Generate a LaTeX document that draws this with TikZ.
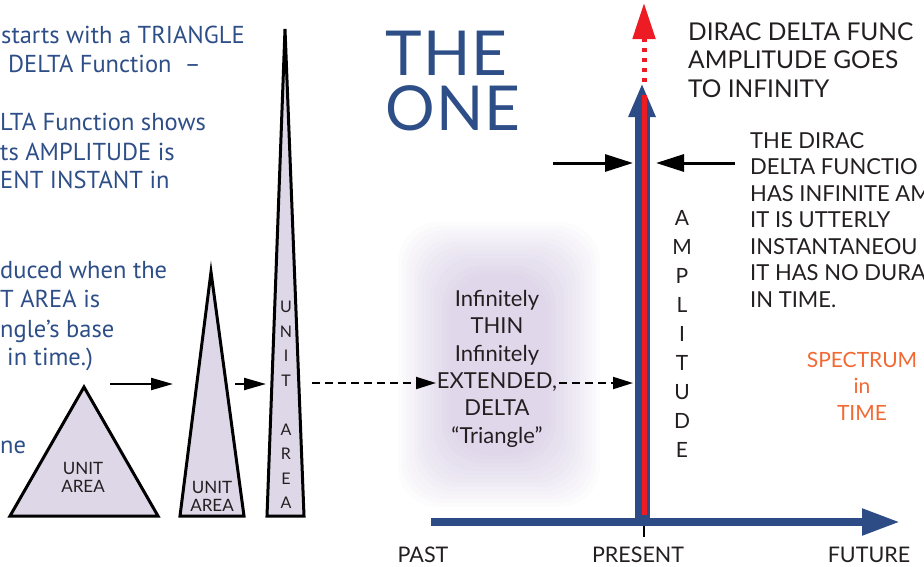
\documentclass[tikz,border=0pt]{standalone}
\usepackage{fontspec}
\setmainfont{Lato}
\newfontfamily\notefont{PT Sans}
\newfontfamily\titlefont[LetterSpace=2]{Lato}
\usetikzlibrary{arrows.meta, positioning}
\definecolor{deltablue}{RGB}{46,78,135}
\definecolor{axisblue}{RGB}{45,75,132}
\definecolor{deltared}{RGB}{237,28,36}
\definecolor{areafill}{RGB}{222,215,232}
\definecolor{glowfill}{RGB}{167,145,197}
\definecolor{spectrum}{RGB}{242,105,52}
\definecolor{inkgray}{RGB}{35,31,32}

\begin{document}
\begin{tikzpicture}[
  x=1pt, y=-1pt,
  every node/.style={inner sep=0pt, text=inkgray},
  note/.style={font=\notefont\fontsize{24.5}{29}\selectfont, text=deltablue, anchor=base west},
  caption/.style={font=\fontsize{22}{26.5}\selectfont, align=left, anchor=base west},
  area/.style={draw=black, line width=3pt, fill=areafill},
  arealabel/.style={font=\fontsize{17}{18}\selectfont, align=center},
  arrow/.style={-{Triangle[length=22pt, width=12pt]}, line width=2.2pt, color=black},
  dasharrow/.style={-{Triangle[length=20pt, width=12pt]}, line width=2pt, dash pattern=on 8pt off 5pt, color=black},
  pointer/.style={-{Triangle[length=28pt, width=17pt]}, line width=3pt, color=black},
  axis/.style={color=axisblue, line width=8pt, -{Triangle[length=38pt, width=25pt]}},
  timelabel/.style={font=\fontsize{21.5}{21.5}\selectfont, anchor=base}
]
  \useasboundingbox (0,0) rectangle (924,566);

  % cut-off explanation on the left
  \node[note] (l1) at (1,43) {starts with a TRIANGLE};
  \node[note] (l2) at (8,72) {DELTA Function \ –};
  \node[note] (l3) at (0,130) {LTA Function shows};
  \node[note] (l4) at (0,160) {ts AMPLITUDE is};
  \node[note] (l5) at (0,188) {ENT INSTANT in};
  \node[note] (l7) at (0,278) {duced when the};
  \node[note] (l8) at (0,307) {T AREA is};
  \node[note] (l9) at (0,337) {ngle’s base};
  \node[note] (l10) at (7,365) {in time.)};
  \node[note] (l11) at (0,453) {ne};

  \node[font=\titlefont\fontsize{62}{55}\selectfont, text=deltablue, align=left, anchor=base west] (title) at (385,130) {THE\\ONE};

  % triangles of unit area
  \draw[area] (10,516) -- (84,387) -- (158,516) -- cycle;
  \draw[area] (180,516) -- (211,272) -- (244,516) -- cycle;
  \draw[area] (267,516) -- (285,29) -- (304,516) -- cycle;
  \node[arealabel] (unit1) at (83,477) {UNIT\\AREA};
  \node[arealabel] (unit2) at (212,496) {UNIT\\AREA};
  \node[font=\fontsize{16}{24.5}\selectfont, align=center] (unit3) at (286,405) {U\\N\\I\\T\\[24.5pt]A\\R\\E\\A};

  \coordinate (a1s) at (110,384);
  \coordinate (a1e) at (173,384);
  \coordinate (a2s) at (235,384);
  \coordinate (a2e) at (266,384);
  \draw[arrow] (a1s) -- (a1e);
  \draw[arrow] (a2s) -- (a2e);

  % soft glow behind the limit triangle
  \foreach \i in {0,...,13}
    \fill[glowfill, opacity=0.03, rounded corners=40pt] (398+\i*4,222+\i*4) rectangle (600-\i*4,507-\i*4);
  \node[font=\fontsize{22}{27.3}\selectfont, align=center, anchor=base] (delta) at (497,443) {Infinitely\\THIN\\Infinitely\\EXTENDED,\\DELTA\\“Triangle”};

  \coordinate (d1s) at (312,383);
  \coordinate (d1e) at (436,383);
  \coordinate (d2s) at (559,383);
  \coordinate (d2e) at (633,383);
  \draw[dasharrow] (d1s) -- (d1e);
  \draw[dasharrow] (d2s) -- (d2e);

  % time axis and the dirac spike
  \coordinate (tstart) at (431,522);
  \coordinate (tend) at (900,522);
  \coordinate (origin) at (642,522);
  \coordinate (spiketop) at (642,83);
  \coordinate (redbase) at (644,515);
  \coordinate (redtop) at (644,95);
  \coordinate (dotbase) at (644,82);
  \coordinate (infinity) at (644,3);
  \draw[axis] (tstart) -- (tend);
  \draw[axis, line width=15pt, -{Triangle[length=34pt, width=25pt]}] (origin) -- (spiketop);
  \draw[deltared, line width=5pt] (redbase) -- (redtop);
  \draw[deltared, line width=5pt, dash pattern=on 4pt off 6pt, -{Triangle[length=36pt, width=22pt]}] (dotbase) -- (infinity);
  \draw[black, line width=2.5pt] (644,526) -- (644,537);

  \coordinate (p1s) at (553,163);
  \coordinate (p1e) at (633,163);
  \coordinate (p2s) at (735,163);
  \coordinate (p2e) at (656,163);
  \draw[pointer] (p1s) -- (p1e);
  \draw[pointer] (p2s) -- (p2e);

  \node[font=\fontsize{21}{29}\selectfont, align=center, anchor=base] (amp) at (682,457) {A\\M\\P\\L\\I\\T\\U\\D\\E};

  \node[caption, font=\fontsize{24.5}{28.5}\selectfont] (goesinf) at (688,97) {DIRAC DELTA FUNC\\AMPLITUDE GOES\\TO INFINITY};
  \node[caption] (infamp) at (750,307) {THE DIRAC\\DELTA FUNCTIO\\HAS INFINITE AM\\IT IS UTTERLY\\INSTANTANEOU\\IT HAS NO DURA\\IN TIME.};
  \node[font=\fontsize{21}{26.5}\selectfont, text=spectrum, align=center, anchor=base] (spec) at (862,420) {SPECTRUM\\in\\TIME};

  \node[timelabel] (past) at (423,562) {PAST};
  \node[timelabel] (present) at (638,562) {PRESENT};
  \node[timelabel] (future) at (869,562) {FUTURE};
\end{tikzpicture}
\end{document}
